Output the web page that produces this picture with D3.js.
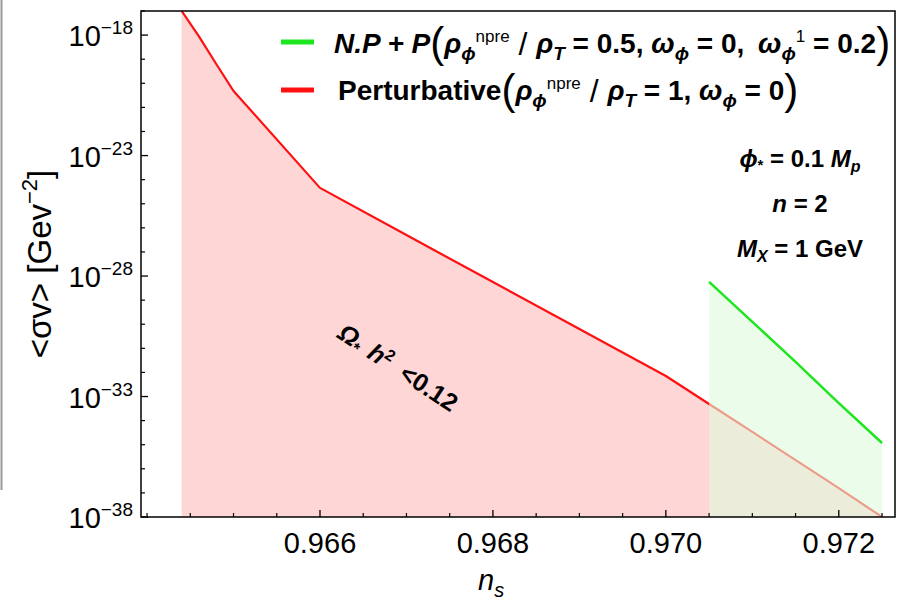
<!DOCTYPE html>
<html>
<head>
<meta charset="utf-8">
<script src="https://cdn.jsdelivr.net/npm/d3@7"></script>
<style>
  body { margin: 0; background: #fff; }
  text { font-family: "Liberation Sans", Arial, sans-serif; fill: #000; }
</style>
</head>
<body>
<script>
// data (log10 of <sigma v>)
var nsRed = [0.9644, 0.9646, 0.9648, 0.965, 0.966, 0.967, 0.968, 0.969, 0.970, 0.9705, 0.971, 0.972, 0.9725];
var logSigmaRed = [-17.0, -18.05, -19.2, -20.32, -24.34, -26.3, -28.25, -30.2, -32.15, -33.31, -34.47, -36.8, -38.0];
var nsGreen = [0.9705, 0.971, 0.9715, 0.972, 0.9725];
var logSigmaGreen = [-28.24, -29.9, -31.56, -33.27, -34.93];
var xMajorTicks = [0.966, 0.968, 0.970, 0.972];
var xMinorTicks = [0.964, 0.9645, 0.965, 0.9655, 0.9665, 0.967, 0.9675, 0.9685, 0.969, 0.9695, 0.9705, 0.971, 0.9715, 0.9725];
var yMajorExp = [-18, -23, -28, -33, -38];
var yMinorExp = [-17, -19, -20, -21, -22, -24, -25, -26, -27, -29, -30, -31, -32, -34, -35, -36, -37];

var width = 900, height = 605;
var svg = d3.select("body").append("svg")
  .attr("width", width)
  .attr("height", height);

// scales
var x = d3.scaleLinear().domain([0.96393, 0.97265]).range([141, 895]);
var y = d3.scaleLog().domain([1e-38, 1e-17]).range([517, 11]);

var red = nsRed.map(function(d, i) { return { ns: d, s: Math.pow(10, logSigmaRed[i]) }; });
var green = nsGreen.map(function(d, i) { return { ns: d, s: Math.pow(10, logSigmaGreen[i]) }; });

// grey edge of the original crop
svg.append("line")
  .attr("x1", 1.5).attr("x2", 1.5).attr("y1", 0).attr("y2", 490)
  .attr("stroke", "#9a9a9a").attr("stroke-width", 2);

svg.append("clipPath").attr("id", "plotclip")
  .append("rect")
  .attr("x", 141).attr("y", 11).attr("width", 754).attr("height", 506);

var plot = svg.append("g").attr("clip-path", "url(#plotclip)");

var area = d3.area()
  .x(function(d) { return x(d.ns); })
  .y0(y(1e-38))
  .y1(function(d) { return y(d.s); });
var line = d3.line()
  .x(function(d) { return x(d.ns); })
  .y(function(d) { return y(d.s); });

// red filling + line
plot.append("path").datum(red)
  .attr("d", area)
  .attr("fill", "#ffd6d6");
plot.append("path").datum(red)
  .attr("d", line)
  .attr("fill", "none")
  .attr("stroke", "#ff1010")
  .attr("stroke-width", 2.2)
  .attr("stroke-linejoin", "round");

// green filling sits on top of the red one
plot.append("path").datum(green)
  .attr("d", area)
  .attr("fill", "#defbdc")
  .attr("fill-opacity", 0.6);
plot.append("path").datum(green)
  .attr("d", line)
  .attr("fill", "none")
  .attr("stroke", "#1ee61e")
  .attr("stroke-width", 2.5);

// frame
svg.append("rect")
  .attr("x", 141).attr("y", 11).attr("width", 754).attr("height", 506)
  .attr("fill", "none")
  .attr("stroke", "#000")
  .attr("stroke-width", 1.5);

// x ticks
svg.selectAll(".xmaj").data(xMajorTicks).enter().append("line")
  .attr("x1", d => x(d)).attr("x2", d => x(d))
  .attr("y1", 517).attr("y2", 510)
  .attr("stroke", "#000").attr("stroke-width", 1.3);
svg.selectAll(".xmin").data(xMinorTicks).enter().append("line")
  .attr("x1", d => x(d)).attr("x2", d => x(d))
  .attr("y1", 517).attr("y2", 513)
  .attr("stroke", "#000").attr("stroke-width", 1.2);
svg.selectAll(".xlab").data(xMajorTicks).enter().append("text")
  .attr("x", d => x(d))
  .attr("y", 553)
  .attr("text-anchor", "middle")
  .attr("font-size", "29px")
  .text(d => d3.format(".3f")(d));

// y ticks
svg.selectAll(".ymaj").data(yMajorExp).enter().append("line")
  .attr("x1", 141).attr("x2", 148)
  .attr("y1", d => y(Math.pow(10, d))).attr("y2", d => y(Math.pow(10, d)))
  .attr("stroke", "#000").attr("stroke-width", 1.3);
svg.selectAll(".ymin").data(yMinorExp).enter().append("line")
  .attr("x1", 141).attr("x2", 145)
  .attr("y1", d => y(Math.pow(10, d))).attr("y2", d => y(Math.pow(10, d)))
  .attr("stroke", "#000").attr("stroke-width", 1.2);
var ylab = svg.selectAll(".ylab").data(yMajorExp).enter().append("text")
  .attr("text-anchor", "end")
  .attr("x", 133)
  .attr("y", d => y(Math.pow(10, d)) + 11)
  .attr("font-size", "29px");
ylab.append("tspan").text("10");
ylab.append("tspan")
  .attr("dy", -12)
  .attr("font-size", "19px")
  .text(d => "\u2212" + Math.abs(d));

// axis titles
var xt = svg.append("text").attr("x", 478).attr("y", 590).attr("font-size", "29px");
xt.append("tspan").attr("font-style", "italic").text("n");
xt.append("tspan").attr("dy", 7).attr("font-size", "20px").attr("font-style", "italic").text("s");

var yt = svg.append("text")
  .attr("transform", "translate(51,264) rotate(-90)")
  .attr("text-anchor", "middle")
  .attr("font-size", "33px");
yt.append("tspan").text("<\u03c3v> [Gev");
yt.append("tspan").attr("dy", -14).attr("font-size", "22px").text("\u22122");
yt.append("tspan").attr("dy", 14).text("]");

// helper for mixed runs (sub/superscripts), shifts done with dy so anchors hold
function addRuns(sel, runs) {
  var cur = 0;
  runs.forEach(function(r) {
    var sh = r.sh || 0;
    sel.append("tspan")
      .attr("dx", r.dx || 0)
      .attr("dy", sh - cur)
      .attr("font-size", (r.fs || 28) + "px")
      .attr("font-style", r.it ? "italic" : "normal")
      .attr("font-weight", r.w || "bold")
      .text(r.t);
    cur = sh;
  });
}

// legend
svg.append("line").attr("x1", 281).attr("x2", 314).attr("y1", 42).attr("y2", 42)
  .attr("stroke", "#1ee61e").attr("stroke-width", 5);
svg.append("line").attr("x1", 281).attr("x2", 314).attr("y1", 90).attr("y2", 90)
  .attr("stroke", "#ff1010").attr("stroke-width", 5);

var leg1 = svg.append("text").attr("x", 334).attr("y", 53);
addRuns(leg1, [
  { t: "N.P + P", it: true },
  { t: "(", fs: 42, w: "normal", sh: 4 },
  { t: "\u03c1", it: true },
  { t: "\u03d5", it: true, fs: 19, sh: 7 },
  { t: "npre", fs: 17, w: "normal", sh: -11 },
  { t: " / ", fs: 32, w: "normal", sh: 2 },
  { t: "\u03c1", it: true },
  { t: "T", it: true, fs: 19, sh: 7 },
  { t: " = 0.5, " },
  { t: "\u03c9", it: true },
  { t: "\u03d5", it: true, fs: 19, sh: 7 },
  { t: " = 0, " },
  { t: "\u03c9", it: true, dx: 6 },
  { t: "\u03d5", it: true, fs: 19, sh: 7 },
  { t: "1", fs: 17, w: "normal", sh: -11 },
  { t: " = 0.2" },
  { t: ")", fs: 42, w: "normal", sh: 4 }
]);

var leg2 = svg.append("text").attr("x", 338).attr("y", 100);
addRuns(leg2, [
  { t: "Perturbative" },
  { t: "(", fs: 42, w: "normal", sh: 4 },
  { t: "\u03c1", it: true },
  { t: "\u03d5", it: true, fs: 19, sh: 7 },
  { t: "npre", fs: 17, w: "normal", sh: -11 },
  { t: " / ", fs: 32, w: "normal", sh: 2 },
  { t: "\u03c1", it: true },
  { t: "T", it: true, fs: 19, sh: 7 },
  { t: " = 1, " },
  { t: "\u03c9", it: true },
  { t: "\u03d5", it: true, fs: 19, sh: 7 },
  { t: " = 0" },
  { t: ")", fs: 42, w: "normal", sh: 4 }
]);

// parameters text
var a1 = svg.append("text").attr("x", 800).attr("y", 167).attr("text-anchor", "middle");
addRuns(a1, [
  { t: "\u03d5", it: true, fs: 24 },
  { t: "*", fs: 15, sh: 3 },
  { t: " = 0.1 ", fs: 24 },
  { t: "M", it: true, fs: 24 },
  { t: "p", it: true, fs: 16, sh: 5 }
]);
var a2 = svg.append("text").attr("x", 800).attr("y", 212).attr("text-anchor", "middle");
addRuns(a2, [
  { t: "n", it: true, fs: 24 },
  { t: " = 2", fs: 24 }
]);
var a3 = svg.append("text").attr("x", 800).attr("y", 257).attr("text-anchor", "middle");
addRuns(a3, [
  { t: "M", it: true, fs: 24 },
  { t: "X", it: true, fs: 16, sh: 5 },
  { t: " = 1 GeV", fs: 24 }
]);

// relic density label inside the red region
var rl = svg.append("text")
  .attr("transform", "translate(336,337) rotate(33.4)");
addRuns(rl, [
  { t: "\u03a9", it: true, fs: 25 },
  { t: "*", fs: 16, sh: 4 },
  { t: "h", it: true, fs: 25, dx: 10 },
  { t: "2", fs: 16, sh: -9 },
  { t: "<0.12", fs: 25, dx: 14 }
]);
</script>
</body>
</html>
